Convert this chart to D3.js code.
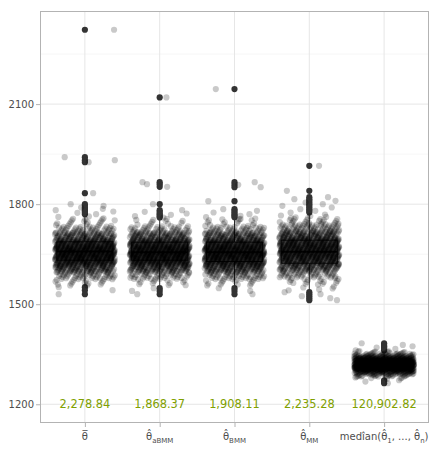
<!DOCTYPE html>
<html><head><meta charset="utf-8">
<script src="https://cdn.jsdelivr.net/npm/d3@7"></script>
<style>body{margin:0;background:#fff} svg{display:block;font-family:"DejaVu Sans",sans-serif}</style>
</head><body><svg id="c" width="441" height="452"></svg>
<script>
// ---------- data ----------
const categories = ["bar", "aBMM", "BMM", "MM", "median"];
const meanLabels = ["2,278.84", "1,868.37", "1,908.11", "2,235.28", "120,902.82"];
const labelY = 1200;
const yTicks = [1200, 1500, 1800, 2100];
const yMinor = [1350, 1650, 1950, 2250];

const q1 = [1632, 1632, 1628, 1623, 1308];
const median = [1658, 1656, 1656, 1657, 1319];
const q3 = [1687, 1686, 1686, 1692, 1330];
const whiskerLow = [1555, 1556, 1555, 1540, 1276];
const whiskerHigh = [1765, 1756, 1758, 1770, 1360];

// dense cloud read as histogram counts, bins starting at whiskerLow
const binWidth = [20, 20, 20, 20, 7];
const cloudCounts = [
  [14, 40, 85, 140, 175, 170, 130, 78, 36, 14, 4],
  [12, 38, 88, 145, 178, 168, 128, 74, 34, 10],
  [13, 42, 90, 142, 172, 168, 132, 80, 38, 12, 2],
  [6, 16, 40, 82, 125, 150, 150, 125, 85, 46, 20, 5],
  [7, 21, 44, 76, 123, 150, 155, 131, 95, 51, 26, 10]
];

const outliers = [
  [2323, 1941, 1932, 1926, 1833, 1800, 1795, 1790, 1786, 1782, 1778, 1774, 1770, 1551, 1542, 1530],
  [2120, 1866, 1860, 1852, 1800, 1782, 1777, 1772, 1768, 1764, 1760, 1548, 1540, 1530],
  [2145, 1866, 1858, 1851, 1809, 1785, 1780, 1775, 1770, 1765, 1761, 1548, 1540, 1530],
  [1915, 1840, 1821, 1815, 1810, 1805, 1800, 1795, 1790, 1785, 1780, 1775, 1536, 1530, 1524, 1518, 1512],
  [1383, 1378, 1374, 1370, 1366, 1362, 1272, 1268, 1263]
];
// jitter of the light copies of the outliers (category units)
const outlierJitter = [
  [0.39, -0.27, 0.40, 0.05, 0.11, -0.19, 0.25, -0.05, 0.24, -0.39, 0.38, -0.10, 0.15, -0.35, 0.37, -0.35],
  [0.09, -0.23, -0.17, 0.10, -0.09, 0.30, -0.20, 0.36, 0.15, -0.33, 0.05, -0.08, -0.37, -0.30],
  [-0.25, 0.27, 0.05, 0.35, -0.35, -0.15, 0.30, -0.28, 0.20, 0.08, -0.38, -0.21, 0.21, 0.24],
  [0.13, -0.30, 0.25, -0.20, 0.35, -0.05, 0.18, -0.36, 0.30, -0.12, 0.08, -0.25, -0.33, 0.15, -0.10, 0.28, 0.37],
  [-0.30, 0.25, 0.38, -0.10, 0.15, -0.38, 0.20, -0.25, 0.05]
];

// ---------- layout ----------
const panel = {l: 40, r: 429, t: 11, b: 423};
const svg = d3.select("#c");
const x = d3.scalePoint().domain(d3.range(categories.length)).range([panel.l, panel.r]).padding(0.6);
const step = x.step();
const allVals = [labelY, ...outliers.flat(), ...whiskerLow, ...whiskerHigh];
const ext = d3.extent(allVals), pad = (ext[1] - ext[0]) * 0.05;
const y = d3.scaleLinear().domain([ext[0] - pad, ext[1] + pad]).range([panel.b, panel.t]);

// grid
const g = svg.append("g");
g.selectAll(".mn").data(yMinor).join("line")
  .attr("x1", panel.l).attr("x2", panel.r).attr("y1", d => y(d)).attr("y2", d => y(d))
  .attr("stroke", "#f2f2f2").attr("stroke-width", 0.7);
g.selectAll(".mj").data(yTicks).join("line")
  .attr("x1", panel.l).attr("x2", panel.r).attr("y1", d => y(d)).attr("y2", d => y(d))
  .attr("stroke", "#e6e6e6").attr("stroke-width", 1);
g.selectAll(".vx").data(d3.range(categories.length)).join("line")
  .attr("x1", d => x(d)).attr("x2", d => x(d)).attr("y1", panel.t).attr("y2", panel.b)
  .attr("stroke", "#e6e6e6").attr("stroke-width", 1);

// boxplots
const bw = 0.75 * step;
const bg = svg.append("g").attr("stroke", "#333").attr("fill", "none");
categories.forEach((c, i) => {
  const cx = x(i);
  bg.append("line").attr("x1", cx).attr("x2", cx).attr("y1", y(q3[i])).attr("y2", y(whiskerHigh[i])).attr("stroke-width", 1);
  bg.append("line").attr("x1", cx).attr("x2", cx).attr("y1", y(q1[i])).attr("y2", y(whiskerLow[i])).attr("stroke-width", 1);
  bg.append("rect").attr("x", cx - bw / 2).attr("width", bw)
    .attr("y", y(q3[i])).attr("height", y(q1[i]) - y(q3[i])).attr("fill", "#fff").attr("stroke-width", 1);
  bg.append("line").attr("x1", cx - bw / 2).attr("x2", cx + bw / 2).attr("y1", y(median[i])).attr("y2", y(median[i])).attr("stroke-width", 2);
  svg.append("g").selectAll("circle").data(outliers[i]).join("circle")
    .attr("cx", cx).attr("cy", d => y(d)).attr("r", 3.1).attr("fill", "#333");
});

// jittered points (quasi-random placement inside histogram bins)
const a1 = 0.7548776662, a2 = 0.5698402910;
const frac = v => v - Math.floor(v);
const pts = [];
categories.forEach((c, i) => {
  let k = 0;
  cloudCounts[i].forEach((n, b) => {
    const lo = whiskerLow[i] + b * binWidth[i];
    const hi = Math.min(lo + binWidth[i], whiskerHigh[i]);
    for (let j = 0; j < n; j++, k++) {
      const jx = (frac(0.5 + k * a1 + i * 0.13) * 2 - 1) * 0.4;
      const yf = frac(0.5 + k * a2 + i * 0.29);
      pts.push({cat: i, jit: jx, val: lo + yf * (hi - lo)});
    }
  });
  outliers[i].forEach((v, j) => pts.push({cat: i, jit: outlierJitter[i][j], val: v}));
});
svg.append("g").selectAll("circle").data(pts).join("circle")
  .attr("cx", d => x(d.cat) + d.jit * step).attr("cy", d => y(d.val))
  .attr("r", 3.1).attr("fill", "#000").attr("fill-opacity", 0.21);

// mean labels
svg.append("g").selectAll("text").data(meanLabels).join("text")
  .attr("x", (d, i) => x(i)).attr("y", y(labelY)).attr("dy", "0.36em")
  .attr("text-anchor", "middle").attr("font-size", 11.4).attr("fill", "#80a000").text(d => d);

// panel border
svg.append("rect").attr("x", panel.l + 0.5).attr("y", panel.t + 0.5)
  .attr("width", panel.r - panel.l - 1).attr("height", panel.b - panel.t - 1)
  .attr("fill", "none").attr("stroke", "#b3b3b3").attr("stroke-width", 1);

// y axis
const ya = svg.append("g").attr("transform", `translate(${panel.l},0)`)
  .call(d3.axisLeft(y).tickValues(yTicks).tickSize(4).tickPadding(2).tickFormat(d3.format("d")));
ya.select(".domain").remove();
ya.selectAll(".tick line").attr("stroke", "#b3b3b3");
ya.selectAll(".tick text").attr("fill", "#4d4d4d").attr("font-size", 10).attr("font-family", "DejaVu Sans");

// x axis
const xa = svg.append("g").attr("transform", `translate(0,${panel.b})`)
  .call(d3.axisBottom(x).tickSize(4).tickFormat(""));
xa.select(".domain").remove();
xa.selectAll(".tick line").attr("stroke", "#b3b3b3");

const xl = svg.append("g").attr("font-size", 10).attr("fill", "#4d4d4d").attr("text-anchor", "middle");
function hatSub(t, sub) {
  t.append("tspan").text("\u03b8\u0302");
  t.append("tspan").attr("font-size", 7).attr("dy", 3).text(sub);
}
categories.forEach((c, i) => {
  const t = xl.append("text").attr("x", x(i)).attr("y", 440);
  if (c === "bar") t.text("\u03b8\u0305");
  else if (c === "median") {
    t.append("tspan").text("med\u00eean(");
    hatSub(t, "1");
    t.append("tspan").attr("dy", -3).text(", ..., ");
    hatSub(t, "n");
    t.append("tspan").attr("dy", -3).text(")");
  } else hatSub(t, c);
});
</script></body></html>
